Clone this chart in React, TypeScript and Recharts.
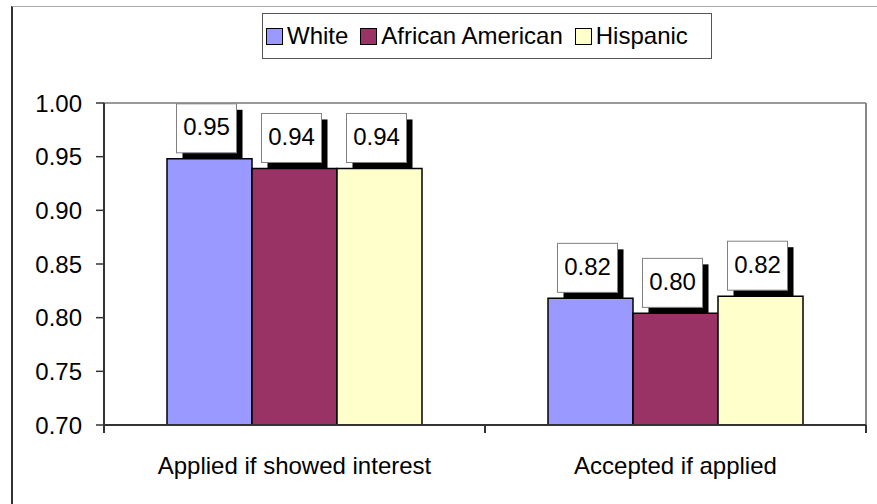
import React from "react";
import { BarChart, Bar, XAxis, YAxis, Legend, LabelList, ReferenceLine } from "recharts";

// shares by group, one value per category
const categories = ["Applied if showed interest", "Accepted if applied"];
const white = [0.948, 0.818];
const africanAmerican = [0.939, 0.804];
const hispanic = [0.939, 0.82];

const seriesKeys = ["white", "africanAmerican", "hispanic"];
const seriesNames = ["White", "African American", "Hispanic"];
const seriesColors = ["#9999FF", "#993366", "#FFFFCC"];

const yTicks = [0.7, 0.75, 0.8, 0.85, 0.9, 0.95, 1.0];
// frame axis runs 0..1: boundaries at 0, 0.5, 1 and band centres at 0.25, 0.75
const frameTicks = [0, 0.25, 0.5, 0.75, 1];

const data = categories.map((name, i) => ({
  name,
  white: white[i],
  africanAmerican: africanAmerican[i],
  hispanic: hispanic[i],
}))

const FONT = 24
const TICK_SIZE = 8
const TICK_MARGIN = 25
const AXIS = "#333"

// boxed value label with a black drop shadow
function ValueBox(props: any) {
  const x = Number(props.x)
  const y = Number(props.y)
  const width = Number(props.width)
  const w = 60
  const h = 49
  const bx = x + width / 2 - 3 - w / 2
  const by = y - 6 - h
  return (
    <g>
      <rect x={bx + 6} y={by + 6} width={w} height={h} fill="#000" />
      <rect x={bx} y={by} width={w} height={h} fill="#fff" stroke="#808080" strokeWidth={1} />
      <text x={bx + w / 2} y={by + h / 2 + 7} textAnchor="middle" fontSize={FONT} fill="#000">
        {Number(props.value).toFixed(2)}
      </text>
    </g>
  )
}

// ticks at category boundaries, labels at band centres
function FrameTick(props: any) {
  const { x, y, payload } = props
  const v = payload.value * categories.length
  if (Number.isInteger(v)) {
    const top = y - TICK_SIZE - TICK_MARGIN
    return <line x1={x} x2={x} y1={top} y2={top + TICK_SIZE} stroke={AXIS} strokeWidth={2} />
  }
  return (
    <text x={x} y={y + 16} textAnchor="middle" fontSize={FONT} fill="#000">
      {categories[Math.floor(v)]}
    </text>
  )
}

function LegendBox() {
  return (
    <div
      style={{
        boxSizing: "border-box",
        width: 450,
        height: 46,
        border: "1.5px solid #555",
        background: "#fff",
        display: "flex",
        alignItems: "center",
        paddingLeft: 3,
        fontSize: FONT,
        color: "#000",
        whiteSpace: "nowrap",
      }}
    >
      {seriesNames.map((name, i) => (
        <div key={name} style={{ display: "flex", alignItems: "center", marginRight: 12 }}>
          <span
            style={{
              display: "inline-block",
              boxSizing: "border-box",
              width: 17,
              height: 17,
              border: "1px solid #000",
              background: seriesColors[i],
              marginRight: 4,
            }}
          />
          <span>{name}</span>
        </div>
      ))}
    </div>
  )
}

export default function App() {
  return (
    <div
      style={{
        position: "fixed",
        left: 0,
        top: 0,
        width: 877,
        height: 504,
        overflow: "hidden",
        background: "#fff",
        fontFamily: "'Liberation Sans', Arial, sans-serif",
      }}
    >
      <div
        style={{
          position: "absolute",
          left: 11,
          top: 6,
          width: 900,
          height: 520,
          borderLeft: "2px solid #333",
          borderTop: "1px solid #aaa",
        }}
      />
      <BarChart
        width={877}
        height={504}
        data={data}
        margin={{ top: 103, right: 11, bottom: 0, left: 0 }}
        barCategoryGap={63}
        barGap={0}
        style={{ position: "absolute", left: 0, top: 0 }}
      >
        <XAxis xAxisId="cat" dataKey="name" orientation="top" height={0} hide />
        <XAxis
          xAxisId="frame"
          type="number"
          domain={[0, 1]}
          allowDataOverflow
          ticks={frameTicks}
          interval={0}
          height={79}
          tickSize={TICK_SIZE}
          tickMargin={TICK_MARGIN}
          tickLine={false}
          axisLine={{ stroke: AXIS, strokeWidth: 2 }}
          tick={<FrameTick />}
        />
        <YAxis
          domain={[0.7, 1.0]}
          ticks={yTicks}
          interval={0}
          width={104}
          tickSize={TICK_SIZE}
          tickMargin={14}
          tickFormatter={(v: number) => v.toFixed(2)}
          axisLine={{ stroke: AXIS, strokeWidth: 2 }}
          tickLine={{ stroke: AXIS, strokeWidth: 1.5 }}
          tick={{ fontSize: FONT, fill: "#000" }}
        />
        {/* plot area border: top and right edges */}
        <ReferenceLine xAxisId="frame" y={1.0} stroke="#999" strokeWidth={2} />
        <ReferenceLine xAxisId="frame" x={1} stroke="#888" strokeWidth={2} />
        <Legend
          layout="horizontal"
          verticalAlign="middle"
          align="center"
          wrapperStyle={{ top: 13, left: 262, width: 450, height: 46 }}
          content={() => <LegendBox />}
        />
        {seriesKeys.map((key, i) => (
          <Bar
            key={key}
            xAxisId="cat"
            dataKey={key}
            name={seriesNames[i]}
            fill={seriesColors[i]}
            stroke="#000"
            strokeWidth={1.5}
            isAnimationActive={false}
          >
            <LabelList dataKey={key} content={ValueBox} />
          </Bar>
        ))}
      </BarChart>
    </div>
  )
}
